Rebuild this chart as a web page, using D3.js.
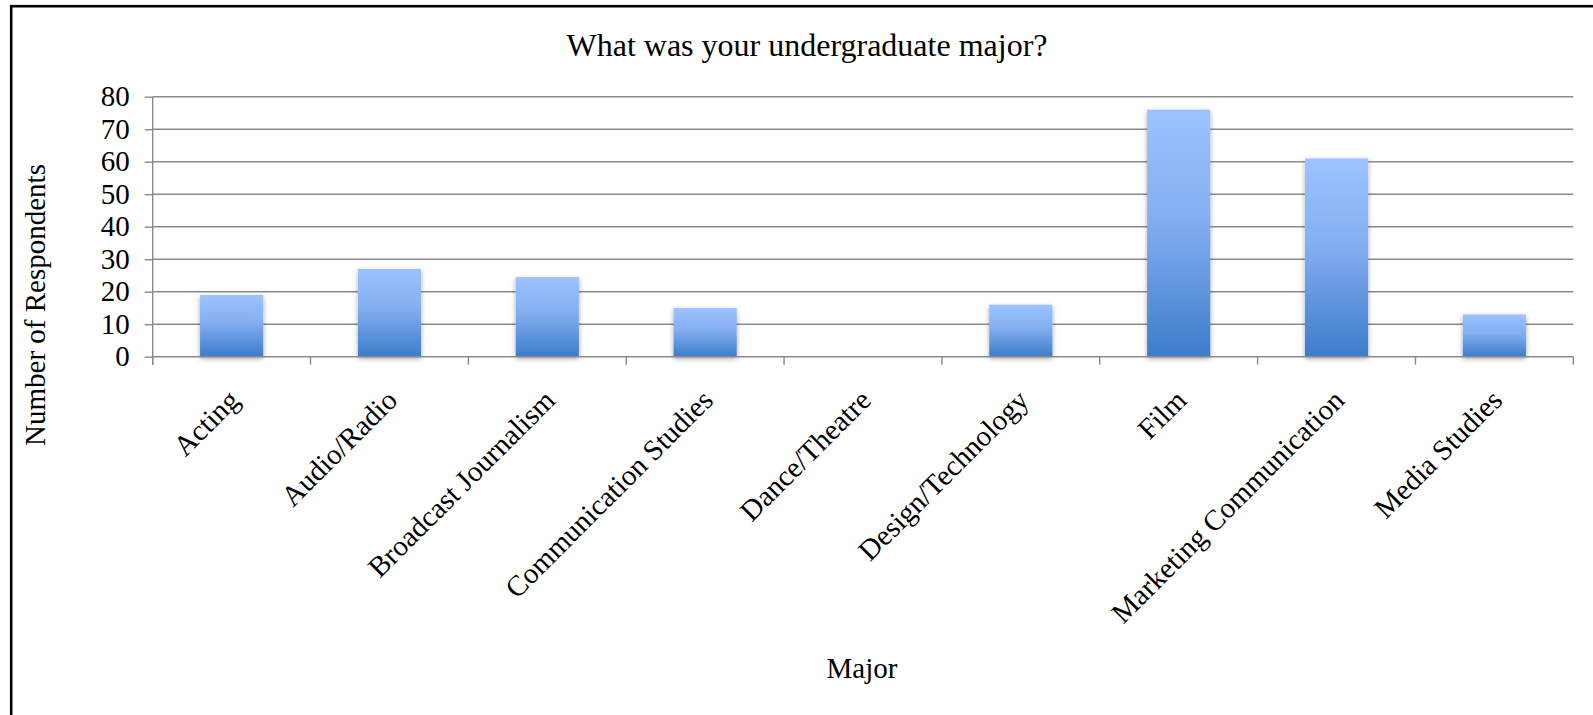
<!DOCTYPE html>
<html>
<head>
<meta charset="utf-8">
<script src="https://cdn.jsdelivr.net/npm/d3@7"></script>
<style>
  body { margin: 0; background: #fff; }
  text { font-family: 'Liberation Serif', 'Times New Roman', serif; fill: #000; }
</style>
</head>
<body>
<script>
const majors = ['Acting', 'Audio/Radio', 'Broadcast Journalism', 'Communication Studies',
  'Dance/Theatre', 'Design/Technology', 'Film', 'Marketing Communication', 'Media Studies']
const respondents = [19, 27, 24.5, 15, 0, 16, 76, 61, 13]
const yTicks = [0, 10, 20, 30, 40, 50, 60, 70, 80]

const width = 1593
const height = 715
const plot = { left: 152.7, right: 1573.3, top: 96.7, bottom: 356.7 }
const fontSize = 29
const titleSize = 32
const gridColor = '#8a8a8a'

const data = majors.map((m, i) => ({ major: m, value: respondents[i] }))

const x = d3.scaleBand()
  .domain(majors)
  .range([plot.left, plot.right])
  .padding(0)

const y = d3.scaleLinear()
  .domain([0, 80])
  .range([plot.bottom, plot.top])

const svg = d3.select('body')
  .append('svg')
    .attr('width', width)
    .attr('height', height)

const defs = svg.append('defs')
const grad = defs.append('linearGradient')
  .attr('id', 'barGrad')
  .attr('x1', 0).attr('y1', 0).attr('x2', 0).attr('y2', 1)
grad.append('stop').attr('offset', '0%').attr('stop-color', '#9dc3ff')
grad.append('stop').attr('offset', '45%').attr('stop-color', '#83aef0')
grad.append('stop').attr('offset', '100%').attr('stop-color', '#3c7ccb')

const shadow = defs.append('filter')
  .attr('id', 'shadow')
  .attr('x', '-30%').attr('y', '-10%').attr('width', '160%').attr('height', '130%')
shadow.append('feDropShadow')
  .attr('dx', 0).attr('dy', 2)
  .attr('stdDeviation', 2.5)
  .attr('flood-color', '#000')
  .attr('flood-opacity', 0.35)

// outer frame (runs past the right and bottom edge)
svg.append('rect')
  .attr('x', 11.2).attr('y', 6.2)
  .attr('width', width + 40).attr('height', height + 40)
  .attr('fill', 'none')
  .attr('stroke', '#000')
  .attr('stroke-width', 2.6)

// title
svg.append('text')
  .attr('x', 807).attr('y', 56)
  .attr('text-anchor', 'middle')
  .attr('font-size', titleSize)
  .text('What was your undergraduate major?')

// gridlines
svg.append('g')
  .selectAll('line')
  .data(yTicks.slice(1))
  .join('line')
    .attr('x1', plot.left).attr('x2', plot.right)
    .attr('y1', d => y(d)).attr('y2', d => y(d))
    .attr('stroke', gridColor)
    .attr('stroke-width', 1.4)

// bars
svg.append('g')
  .selectAll('rect')
  .data(data.filter(d => d.value > 0))
  .join('rect')
    .attr('x', d => x(d.major) + x.bandwidth() * 0.3)
    .attr('width', x.bandwidth() * 0.4)
    .attr('y', d => y(d.value))
    .attr('height', d => y(0) - y(d.value))
    .attr('fill', 'url(#barGrad)')
    .attr('filter', 'url(#shadow)')

// y axis
const axisY = svg.append('g')
  .attr('transform', 'translate(' + plot.left + ',0)')
  .call(d3.axisLeft(y).tickValues(yTicks).tickSize(8).tickPadding(8))
axisY.select('.domain').attr('stroke', gridColor).attr('stroke-width', 1.4)
  .attr('d', 'M0,' + plot.top + 'V' + (plot.bottom + 8))
axisY.selectAll('.tick line').attr('stroke', gridColor).attr('stroke-width', 1.4)
axisY.selectAll('.tick text')
  .attr('font-size', fontSize)
  .attr('font-family', 'Liberation Serif')
  .attr('fill', '#000')
  .attr('x', -23)

// x axis
const bounds = majors.map(m => x(m)).concat([plot.right])
const axisX = svg.append('g')
axisX.append('line')
  .attr('x1', plot.left).attr('x2', plot.right)
  .attr('y1', y(0)).attr('y2', y(0))
  .attr('stroke', gridColor).attr('stroke-width', 1.4)
axisX.selectAll('.xtick')
  .data(bounds)
  .join('line')
    .attr('class', 'xtick')
    .attr('x1', d => d).attr('x2', d => d)
    .attr('y1', y(0)).attr('y2', y(0) + 8)
    .attr('stroke', gridColor).attr('stroke-width', 1.4)

axisX.selectAll('.xlabel')
  .data(majors)
  .join('text')
    .attr('class', 'xlabel')
    .attr('text-anchor', 'end')
    .attr('font-size', fontSize)
    .attr('transform', d => 'translate(' + (x(d) + x.bandwidth() / 2 + 9.5) + ',402) rotate(-45)')
    .text(d => d)

// axis titles
svg.append('text')
  .attr('x', 862).attr('y', 678)
  .attr('text-anchor', 'middle')
  .attr('font-size', fontSize)
  .text('Major')

svg.append('text')
  .attr('transform', 'translate(45,305) rotate(-90)')
  .attr('text-anchor', 'middle')
  .attr('font-size', fontSize)
  .text('Number of Respondents')
</script>
</body>
</html>
